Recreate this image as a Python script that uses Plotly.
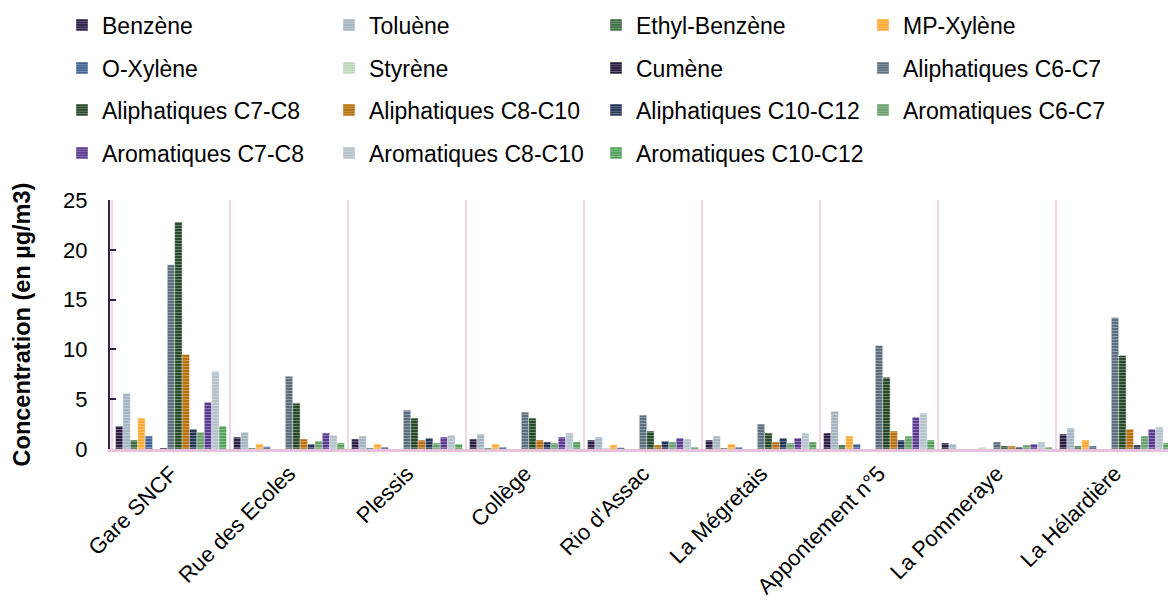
import plotly.graph_objects as go

# Sampling sites
sites = ["Gare SNCF", "Rue des Ecoles", "Plessis", "Collège", "Rio d'Assac",
         "La Mégretais", "Appontement n°5", "La Pommeraye", "La Hélardière"]

# Concentrations (µg/m3) per compound, one value per site
benzene       = [2.3, 1.2, 1.0, 1.0, 0.9, 0.9, 1.6, 0.6, 1.5]
toluene       = [5.6, 1.7, 1.3, 1.5, 1.2, 1.3, 3.8, 0.5, 2.1]
ethylbenzene  = [0.9, 0.1, 0.1, 0.1, 0.05, 0.1, 0.4, 0.0, 0.3]
mp_xylene     = [3.1, 0.5, 0.5, 0.5, 0.4, 0.5, 1.3, 0.0, 0.9]
o_xylene      = [1.3, 0.25, 0.2, 0.2, 0.15, 0.2, 0.5, 0.0, 0.3]
styrene       = [0.0, 0.0, 0.0, 0.0, 0.0, 0.0, 0.0, 0.2, 0.0]
cumene        = [0.1, 0.0, 0.0, 0.0, 0.0, 0.0, 0.0, 0.0, 0.0]
aliph_c6_c7   = [18.5, 7.3, 3.9, 3.7, 3.4, 2.5, 10.4, 0.7, 13.2]
aliph_c7_c8   = [22.8, 4.6, 3.1, 3.1, 1.8, 1.6, 7.2, 0.3, 9.4]
aliph_c8_c10  = [9.5, 1.0, 0.9, 0.9, 0.4, 0.7, 1.8, 0.3, 2.0]
aliph_c10_c12 = [2.0, 0.5, 1.1, 0.7, 0.8, 1.1, 0.9, 0.2, 0.4]
arom_c6_c7    = [1.7, 0.8, 0.6, 0.6, 0.7, 0.6, 1.3, 0.4, 1.3]
arom_c7_c8    = [4.7, 1.6, 1.2, 1.2, 1.1, 1.1, 3.2, 0.5, 2.0]
arom_c8_c10   = [7.8, 1.4, 1.4, 1.6, 1.0, 1.6, 3.6, 0.7, 2.2]
arom_c10_c12  = [2.3, 0.6, 0.5, 0.7, 0.2, 0.7, 0.9, 0.2, 0.6]

series = [
    ("Benzène", benzene, "#2d1e45"),
    ("Toluène", toluene, "#a3b4c2"),
    ("Ethyl-Benzène", ethylbenzene, "#3d6e44"),
    ("MP-Xylène", mp_xylene, "#ffa830"),
    ("O-Xylène", o_xylene, "#3e6294"),
    ("Styrène", styrene, "#bcd8bc"),
    ("Cumène", cumene, "#24193a"),
    ("Aliphatiques C6-C7", aliph_c6_c7, "#5b6f80"),
    ("Aliphatiques C7-C8", aliph_c7_c8, "#284b2a"),
    ("Aliphatiques C8-C10", aliph_c8_c10, "#b8700e"),
    ("Aliphatiques C10-C12", aliph_c10_c12, "#26365a"),
    ("Aromatiques C6-C7", arom_c6_c7, "#66a06a"),
    ("Aromatiques C7-C8", arom_c7_c8, "#5b3a91"),
    ("Aromatiques C8-C10", arom_c8_c10, "#b3c1cc"),
    ("Aromatiques C10-C12", arom_c10_c12, "#55a15b"),
]

FONT = "Liberation Sans, Arial, sans-serif"
W, H = 1168, 605
ML, MR, MT, MB = 110, 0, 200, 156
PW, PH = W - ML - MR, H - MT - MB

fig = go.Figure()
legend_names = ["legend", "legend2", "legend3", "legend4"]
for i, (name, vals, col) in enumerate(series):
    fig.add_trace(go.Bar(
        x=sites, y=vals, name=name,
        marker=dict(
            color=col,
            line=dict(color="rgba(255,255,255,0.6)", width=0.6),
            pattern=dict(shape="-", size=3, solidity=0.3,
                         fgcolor="white", fgopacity=0.35, fillmode="overlay"),
        ),
        legend=legend_names[i // 4],
    ))

# four legend rows of four entries, placed above and left of the plot area
row_y = [25, 68, 110, 153]
legend_common = dict(
    orientation="h", xref="paper", yref="paper",
    x=(62 - ML) / PW, xanchor="left", yanchor="middle",
    entrywidth=222, entrywidthmode="pixels",
    font=dict(family=FONT, size=23, color="black"),
    bgcolor="rgba(0,0,0,0)", itemclick=False, itemdoubleclick=False,
    traceorder="normal",
)
legends = {}
for k, ln in enumerate(legend_names):
    legends[ln] = dict(legend_common, y=1 + (MT - row_y[k]) / PH)

fig.update_layout(
    width=W, height=H,
    margin=dict(l=ML, r=MR, t=MT, b=MB),
    paper_bgcolor="white", plot_bgcolor="white",
    barmode="group", bargap=0.06, bargroupgap=0,
    font=dict(family=FONT, color="black"),
    **legends,
)

fig.update_xaxes(
    type="category",
    range=[-0.5 - 2 / 118, -0.5 - 2 / 118 + PW / 118],
    showline=True, linecolor="#e8c2dc", linewidth=3,
    showgrid=True, gridcolor="#f2d6e8", gridwidth=1.5,
    tickson="boundaries", ticks="",
    tickangle=-45, tickfont=dict(family=FONT, size=22, color="black"),
    zeroline=False,
)
fig.update_yaxes(
    range=[0, 25], dtick=5, tick0=0,
    showline=True, linecolor="#2e2345", linewidth=2,
    ticks="inside", ticklen=6, tickwidth=2, tickcolor="#2e2345",
    showgrid=False, zeroline=False,
    ticklabelstandoff=16,
    tickfont=dict(family=FONT, size=22, color="black"),
    title=dict(text="<b>Concentration (en µg/m3)</b>",
               font=dict(family=FONT, size=23.5, color="black"), standoff=26),
)

fig.write_html("out.html")
